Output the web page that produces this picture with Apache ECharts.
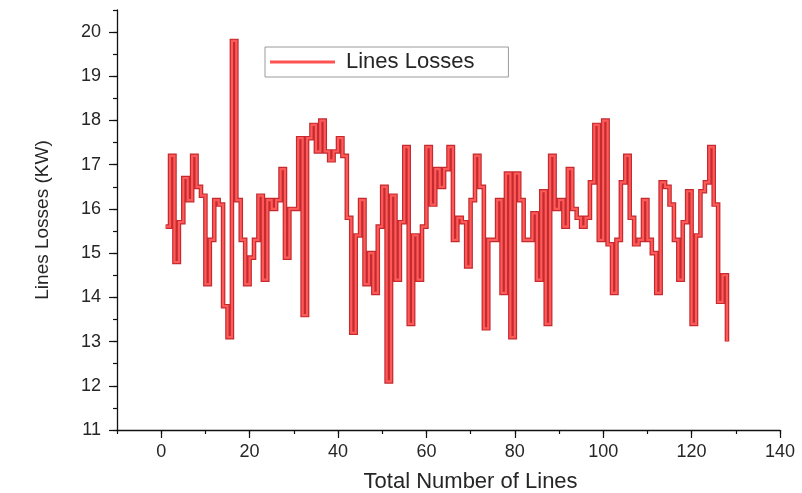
<!DOCTYPE html>
<html><head><meta charset="utf-8">
<script src="https://cdn.jsdelivr.net/npm/echarts@6/dist/echarts.min.js"></script>
<style>html,body{margin:0;padding:0;background:#fff}#c{width:802px;height:493px}</style>
</head><body><div id="c"></div>
<script>
// ---- data ----
const seriesName = 'Lines Losses';
const xAxisTitle = 'Total Number of Lines';
const yAxisTitle = 'Lines Losses (KW)';
// losses (kW) of line 1 .. 128
const lossesKW = [
  15.6, 17.2, 14.8, 15.7, 16.7, 16.2, 17.2, 16.5, 16.3, 14.3,
  15.3, 16.2, 16.1, 13.8, 13.1, 19.8, 16.2, 15.3, 14.3, 14.9,
  15.3, 16.3, 14.4, 16.2, 16.0, 16.2, 16.9, 14.9, 16.0, 16.0,
  17.6, 13.6, 17.6, 17.9, 17.3, 18.0, 17.3, 17.1, 17.3, 17.6,
  17.2, 15.8, 13.2, 15.4, 16.2, 14.3, 15.0, 14.1, 15.6, 16.5,
  12.1, 16.3, 14.4, 15.7, 17.4, 13.4, 15.4, 14.4, 15.6, 17.4,
  16.1, 16.9, 16.5, 16.9, 17.4, 15.3, 15.8, 15.7, 14.7, 16.2,
  17.2, 16.5, 13.3, 15.3, 15.3, 16.2, 14.1, 16.8, 13.1, 16.8,
  16.2, 15.3, 15.3, 15.9, 14.4, 16.4, 13.4, 17.2, 16.0, 16.2,
  15.6, 16.9, 16.0, 15.8, 15.6, 15.8, 16.6, 17.9, 15.3, 18.0,
  15.2, 14.1, 15.3, 16.6, 17.2, 15.8, 15.2, 15.3, 16.2, 15.3,
  15.0, 14.1, 16.6, 16.5, 16.1, 15.3, 14.4, 15.7, 16.4, 13.4,
  15.4, 16.4, 16.6, 17.4, 16.1, 13.9, 14.5, 13.0
];
const xRange = [-10, 140];
const yRange = [11, 20.5];

const points = lossesKW.map((v, i) => [i + 1, v]);
const FONT = '"Liberation Sans", Arial, sans-serif';
const TXT = '#262626';

const chart = echarts.init(document.getElementById('c'), null, {renderer: 'canvas'});
chart.setOption({
  animation: false,
  backgroundColor: '#fff',
  grid: [
    {left: 117, right: 22, top: 10, bottom: 63, containLabel: false, outerBoundsMode: 'none'},
    {left: 161.2, right: 22, top: 10, bottom: 63, containLabel: false, outerBoundsMode: 'none'}
  ],
  legend: {
    data: [seriesName],
    left: 265, top: 47,
    orient: 'horizontal',
    borderColor: '#9a9a9a', borderWidth: 1,
    padding: [4, 34, 4, 5],
    itemWidth: 65, itemHeight: 14,
    itemGap: 8,
    icon: 'path://M0,5.5 L65,5.5 L65,8.5 L0,8.5 Z',
    textStyle: {fontFamily: FONT, fontSize: 22, color: TXT, padding: [0, 0, 0, 6]}
  },
  xAxis: [
    {
      type: 'value', gridIndex: 0, min: xRange[0], max: xRange[1], interval: 10,
      axisLine: {show: true, onZero: false, lineStyle: {color: '#111', width: 1.3}},
      axisTick: {show: true, inside: false, length: 4, lineStyle: {color: '#111', width: 1.2}},
      axisLabel: {show: false},
      splitLine: {show: false}
    },
    {
      type: 'value', gridIndex: 1, min: 0, max: xRange[1], interval: 20,
      axisLine: {show: false, onZero: false},
      axisTick: {show: true, inside: false, length: 8, lineStyle: {color: '#111', width: 1.2}},
      axisLabel: {show: true, fontFamily: FONT, fontSize: 18, color: TXT, margin: 13},
      splitLine: {show: false},
      name: xAxisTitle, nameLocation: 'middle', nameGap: 41,
      nameTextStyle: {fontFamily: FONT, fontSize: 22, color: TXT}
    }
  ],
  yAxis: [
    {
      type: 'value', gridIndex: 0, min: yRange[0], max: yRange[1], interval: 0.5,
      axisLine: {show: true, onZero: false, lineStyle: {color: '#111', width: 1.3}},
      axisTick: {show: true, inside: false, length: 4, lineStyle: {color: '#111', width: 1.2}},
      axisLabel: {show: false},
      splitLine: {show: false}
    },
    {
      type: 'value', gridIndex: 0, position: 'left', min: yRange[0], max: yRange[1], interval: 1,
      axisLine: {show: false, onZero: false},
      axisTick: {show: true, inside: false, length: 8, lineStyle: {color: '#111', width: 1.2}},
      axisLabel: {show: true, fontFamily: FONT, fontSize: 18, color: TXT, margin: 16, showMaxLabel: false},
      splitLine: {show: false},
      name: yAxisTitle, nameLocation: 'middle', nameGap: 65,
      nameTextStyle: {fontFamily: FONT, fontSize: 19, color: TXT}
    },
    {
      type: 'value', gridIndex: 1, min: yRange[0], max: yRange[1], show: false
    }
  ],
  series: [
    {
      name: 'outline', type: 'line', xAxisIndex: 0, yAxisIndex: 0,
      step: 'end', symbol: 'none', data: points,
      lineStyle: {color: '#c42a2e', width: 4.6, join: 'miter'},
      z: 2, silent: true
    },
    {
      name: seriesName, type: 'line', xAxisIndex: 0, yAxisIndex: 0,
      step: 'end', symbol: 'none', data: points,
      color: '#ff5252',
      lineStyle: {color: '#ff5a5a', width: 2.2, join: 'miter'},
      z: 3
    }
  ]
});
</script>
</body></html>
